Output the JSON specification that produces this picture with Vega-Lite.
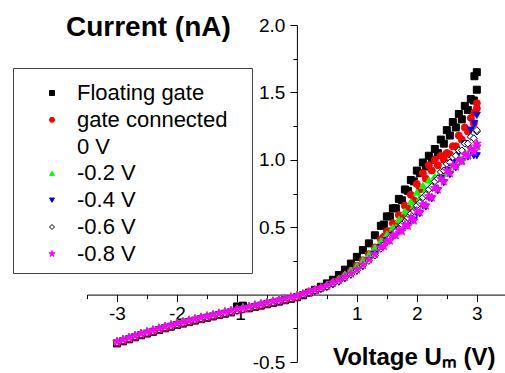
{
  "$schema": "https://vega.github.io/schema/vega-lite/v6.json",
  "width": 418,
  "height": 337,
  "autosize": {"type": "none"},
  "padding": {"left": 87, "top": 25, "right": 0, "bottom": 11},
  "background": "white",
  "config": {
    "view": {"stroke": null},
    "axis": {
      "labelFont": "Liberation Sans",
      "labelFontSize": 19,
      "labelColor": "black",
      "domainColor": "black",
      "tickColor": "black",
      "grid": false,
      "titleFont": "Liberation Sans",
      "titleColor": "black",
      "titleFontWeight": "bold"
    }
  },
  "data": {
    "values": [
      {"v": -3.0, "a": -0.362, "b": -0.36, "c": -0.338, "d": -0.362, "e": -0.358, "f": -0.35},
      {"v": -2.9, "a": -0.347, "b": -0.345, "c": -0.323, "d": -0.347, "e": -0.343, "f": -0.335},
      {"v": -2.8, "a": -0.332, "b": -0.33, "c": -0.308, "d": -0.332, "e": -0.328, "f": -0.32},
      {"v": -2.7, "a": -0.317, "b": -0.315, "c": -0.293, "d": -0.317, "e": -0.313, "f": -0.305},
      {"v": -2.6, "a": -0.302, "b": -0.3, "c": -0.278, "d": -0.302, "e": -0.298, "f": -0.29},
      {"v": -2.5, "a": -0.289, "b": -0.287, "c": -0.265, "d": -0.289, "e": -0.285, "f": -0.277},
      {"v": -2.4, "a": -0.276, "b": -0.274, "c": -0.252, "d": -0.276, "e": -0.272, "f": -0.264},
      {"v": -2.3, "a": -0.263, "b": -0.261, "c": -0.239, "d": -0.263, "e": -0.259, "f": -0.251},
      {"v": -2.2, "a": -0.25, "b": -0.248, "c": -0.226, "d": -0.25, "e": -0.246, "f": -0.238},
      {"v": -2.1, "a": -0.238, "b": -0.236, "c": -0.214, "d": -0.238, "e": -0.234, "f": -0.226},
      {"v": -2.0, "a": -0.226, "b": -0.224, "c": -0.202, "d": -0.226, "e": -0.222, "f": -0.214},
      {"v": -1.9, "a": -0.215, "b": -0.213, "c": -0.191, "d": -0.215, "e": -0.211, "f": -0.203},
      {"v": -1.8, "a": -0.204, "b": -0.202, "c": -0.18, "d": -0.204, "e": -0.2, "f": -0.192},
      {"v": -1.7, "a": -0.193, "b": -0.191, "c": -0.169, "d": -0.193, "e": -0.189, "f": -0.181},
      {"v": -1.6, "a": -0.182, "b": -0.18, "c": -0.158, "d": -0.182, "e": -0.178, "f": -0.17},
      {"v": -1.5, "a": -0.172, "b": -0.17, "c": -0.148, "d": -0.172, "e": -0.168, "f": -0.16},
      {"v": -1.4, "a": -0.162, "b": -0.16, "c": -0.138, "d": -0.162, "e": -0.158, "f": -0.15},
      {"v": -1.3, "a": -0.152, "b": -0.15, "c": -0.128, "d": -0.152, "e": -0.148, "f": -0.14},
      {"v": -1.2, "a": -0.142, "b": -0.14, "c": -0.118, "d": -0.142, "e": -0.138, "f": -0.13},
      {"v": -1.1, "a": -0.132, "b": -0.13, "c": -0.108, "d": -0.132, "e": -0.128, "f": -0.12},
      {"v": -1.0, "a": -0.088, "b": -0.12, "c": -0.098, "d": -0.122, "e": -0.118, "f": -0.11},
      {"v": -0.9, "a": -0.082, "b": -0.11, "c": -0.088, "d": -0.112, "e": -0.108, "f": -0.1},
      {"v": -0.8, "a": -0.102, "b": -0.1, "c": -0.078, "d": -0.102, "e": -0.098, "f": -0.09},
      {"v": -0.7, "a": -0.092, "b": -0.09, "c": -0.068, "d": -0.092, "e": -0.088, "f": -0.08},
      {"v": -0.6, "a": -0.082, "b": -0.08, "c": -0.058, "d": -0.082, "e": -0.078, "f": -0.07},
      {"v": -0.5, "a": -0.072, "b": -0.07, "c": -0.048, "d": -0.072, "e": -0.068, "f": -0.06},
      {"v": -0.4, "a": -0.062, "b": -0.06, "c": -0.038, "d": -0.062, "e": -0.058, "f": -0.05},
      {"v": -0.3, "a": -0.052, "b": -0.05, "c": -0.028, "d": -0.052, "e": -0.048, "f": -0.04},
      {"v": -0.2, "a": -0.042, "b": -0.04, "c": -0.018, "d": -0.042, "e": -0.038, "f": -0.03},
      {"v": -0.1, "a": -0.032, "b": -0.03, "c": -0.008, "d": -0.032, "e": -0.028, "f": -0.02},
      {"v": 0.0, "a": -0.02, "b": -0.02, "c": 0.002, "d": -0.022, "e": -0.018, "f": -0.01},
      {"v": 0.1, "a": -0.005, "b": 0.0, "c": 0.012, "d": -0.008, "e": 0.0, "f": 0.005},
      {"v": 0.2, "a": 0.015, "b": 0.015, "c": 0.027, "d": 0.007, "e": 0.015, "f": 0.02},
      {"v": 0.3, "a": 0.035, "b": 0.03, "c": 0.042, "d": 0.022, "e": 0.03, "f": 0.035},
      {"v": 0.4, "a": 0.058, "b": 0.045, "c": 0.057, "d": 0.037, "e": 0.045, "f": 0.05},
      {"v": 0.5, "a": 0.083, "b": 0.06, "c": 0.077, "d": 0.052, "e": 0.06, "f": 0.068},
      {"v": 0.6, "a": 0.11, "b": 0.085, "c": 0.097, "d": 0.072, "e": 0.08, "f": 0.088},
      {"v": 0.7, "a": 0.145, "b": 0.11, "c": 0.122, "d": 0.092, "e": 0.1, "f": 0.108},
      {"v": 0.8, "a": 0.185, "b": 0.14, "c": 0.152, "d": 0.117, "e": 0.125, "f": 0.13},
      {"v": 0.9, "a": 0.23, "b": 0.175, "c": 0.182, "d": 0.142, "e": 0.15, "f": 0.155},
      {"v": 1.0, "a": 0.28, "b": 0.215, "c": 0.217, "d": 0.172, "e": 0.18, "f": 0.185},
      {"v": 1.1, "a": 0.33, "b": 0.255, "c": 0.257, "d": 0.207, "e": 0.215, "f": 0.22},
      {"v": 1.2, "a": 0.38, "b": 0.3, "c": 0.3, "d": 0.25, "e": 0.25, "f": 0.26},
      {"v": 1.3, "a": 0.44, "b": 0.35, "c": 0.35, "d": 0.3, "e": 0.29, "f": 0.3},
      {"v": 1.4, "a": 0.51, "b": 0.41, "c": 0.4, "d": 0.35, "e": 0.34, "f": 0.35},
      {"v": 1.5, "a": 0.58, "b": 0.47, "c": 0.45, "d": 0.4, "e": 0.4, "f": 0.4},
      {"v": 1.6, "a": 0.64, "b": 0.53, "c": 0.5, "d": 0.44, "e": 0.44, "f": 0.44},
      {"v": 1.7, "a": 0.71, "b": 0.59, "c": 0.56, "d": 0.48, "e": 0.49, "f": 0.48},
      {"v": 1.8, "a": 0.78, "b": 0.66, "c": 0.62, "d": 0.52, "e": 0.54, "f": 0.52},
      {"v": 1.9, "a": 0.85, "b": 0.74, "c": 0.69, "d": 0.56, "e": 0.6, "f": 0.57},
      {"v": 2.0, "a": 0.92, "b": 0.82, "c": 0.76, "d": 0.6, "e": 0.66, "f": 0.62},
      {"v": 2.1, "a": 0.98, "b": 0.9, "c": 0.81, "d": 0.66, "e": 0.72, "f": 0.67},
      {"v": 2.2, "a": 1.03, "b": 0.96, "c": 0.85, "d": 0.72, "e": 0.78, "f": 0.73},
      {"v": 2.3, "a": 1.08, "b": 1.0, "c": 0.88, "d": 0.79, "e": 0.84, "f": 0.79},
      {"v": 2.4, "a": 1.15, "b": 1.03, "c": 0.91, "d": 0.86, "e": 0.91, "f": 0.86},
      {"v": 2.5, "a": 1.22, "b": 1.05, "c": 0.95, "d": 0.92, "e": 0.97, "f": 0.92},
      {"v": 2.6, "a": 1.28, "b": 1.1, "c": 0.98, "d": 0.98, "e": 1.02, "f": 0.96},
      {"v": 2.7, "a": 1.34, "b": 1.18, "c": 1.02, "d": 1.05, "e": 1.07, "f": 1.0},
      {"v": 2.8, "a": 1.4, "b": 1.24, "c": 1.06, "d": 1.12, "e": 1.12, "f": 1.04},
      {"v": 2.9, "a": 1.45, "b": 1.31, "c": 1.09, "d": 1.22, "e": 1.17, "f": 1.08},
      {"v": 3.0, "a": 1.52, "b": 1.38, "c": 1.12, "d": 1.33, "e": 1.21, "f": 1.12},
      {"v": 1.45, "a": 0.52, "b": 0.43, "c": 0.41, "d": 0.36, "e": 0.37, "f": 0.36},
      {"v": 1.55, "a": 0.58, "b": 0.47, "c": 0.45, "d": 0.4, "e": 0.42, "f": 0.4},
      {"v": 1.65, "a": 0.64, "b": 0.52, "c": 0.5, "d": 0.44, "e": 0.47, "f": 0.44},
      {"v": 1.75, "a": 0.7, "b": 0.58, "c": 0.55, "d": 0.47, "e": 0.52, "f": 0.47},
      {"v": 1.85, "a": 0.77, "b": 0.64, "c": 0.6, "d": 0.51, "e": 0.57, "f": 0.51},
      {"v": 1.95, "a": 0.84, "b": 0.7, "c": 0.66, "d": 0.55, "e": 0.62, "f": 0.55},
      {"v": 2.05, "a": 0.9, "b": 0.78, "c": 0.72, "d": 0.6, "e": 0.68, "f": 0.61},
      {"v": 2.15, "a": 0.95, "b": 0.86, "c": 0.78, "d": 0.65, "e": 0.74, "f": 0.66},
      {"v": 2.25, "a": 1.0, "b": 0.92, "c": 0.83, "d": 0.71, "e": 0.8, "f": 0.72},
      {"v": 2.35, "a": 1.05, "b": 0.96, "c": 0.87, "d": 0.77, "e": 0.86, "f": 0.78},
      {"v": 2.45, "a": 1.12, "b": 1.0, "c": 0.9, "d": 0.83, "e": 0.92, "f": 0.84},
      {"v": 2.55, "a": 1.18, "b": 1.04, "c": 0.93, "d": 0.89, "e": 0.98, "f": 0.9},
      {"v": 2.65, "a": 1.24, "b": 1.1, "c": 0.96, "d": 0.94, "e": 1.03, "f": 0.95},
      {"v": 2.75, "a": 1.3, "b": 1.15, "c": 0.99, "d": 0.99, "e": 1.07, "f": 0.99},
      {"v": 2.85, "a": 1.37, "b": 1.21, "c": 1.03, "d": 1.02, "e": 1.12, "f": 1.03},
      {"v": 2.95, "a": 1.44, "b": 1.27, "c": 1.07, "d": 1.03, "e": 1.16, "f": 1.06},
      {"v": 3.0, "a": 1.65, "b": 1.42, "c": 1.1, "d": 1.03, "e": 1.22, "f": 1.1},
      {"v": 2.96, "a": 1.62, "b": 1.35, "c": null, "d": 1.27, "e": null, "f": null}
    ]
  },
  "transform": [{"fold": ["a", "b", "c", "d", "e", "f"], "as": ["key", "i"]}],
  "mark": {"type": "point", "filled": true, "size": 49, "strokeWidth": 1, "opacity": 1},
  "encoding": {
    "x": {
      "field": "v", "type": "quantitative",
      "scale": {"domain": [-3.5, 3.47], "nice": false, "zero": false},
      "axis": {
        "orient": "bottom", "offset": -67.4, "title": "Voltage Uₘ (V)",
        "values": [-3.5, -3, -2.5, -2, -1.5, -1, -0.5, 0, 0.5, 1, 1.5, 2, 2.5, 3],
        "labelExpr": "datum.value == 0 || datum.value % 1 != 0 ? '' : '' + datum.value",
        "tickSize": {"condition": {"test": "datum.value % 1 == 0", "value": 7}, "value": 4},
        "labelPadding": 3, "labelFlush": false, "labelOverlap": false,
        "titleFontSize": 24, "titleAlign": "right", "titleAnchor": null,
        "titleX": 408, "titleY": 70, "titleBaseline": "alphabetic"
      }
    },
    "y": {
      "field": "i", "type": "quantitative",
      "scale": {"domain": [-0.5, 2.0], "nice": false, "zero": false},
      "axis": {
        "orient": "left", "offset": -209.9, "title": "Current (nA)",
        "values": [-0.5, -0.25, 0, 0.25, 0.5, 0.75, 1, 1.25, 1.5, 1.75, 2],
        "labelExpr": "datum.value == 0 || (datum.value * 2) % 1 != 0 ? '' : (datum.value % 1 == 0 ? datum.value + '.0' : '' + datum.value)",
        "tickSize": {"condition": {"test": "(datum.value * 2) % 1 == 0", "value": 7}, "value": 4},
        "labelPadding": 5, "labelFlush": false, "labelOverlap": false,
        "titleFontSize": 28, "titleAngle": 0, "titleAlign": "center", "titleAnchor": null,
        "titleX": -149, "titleY": 10, "titleBaseline": "alphabetic"
      }
    },
    "fill": {
      "field": "key", "type": "nominal",
      "scale": {"domain": ["a", "b", "z", "c", "d", "e", "f"], "range": ["black", "red", "transparent", "#00ff00", "blue", "white", "magenta"]},
      "legend": {
        "title": " ", "titleFontSize": 6, "titlePadding": 0, "orient": "none", "legendX": -74, "legendY": 43,
        "padding": 8, "strokeColor": "#444", "labelFont": "Liberation Sans", "labelFontSize": 22, "labelColor": "black", "labelLimit": 220,
        "symbolOffset": 20, "labelOffset": 14, "rowPadding": 4.8, "symbolSize": 25, "symbolStrokeWidth": 1,
        "labelExpr": "datum.label == 'a' ? 'Floating gate' : datum.label == 'b' ? 'gate connected\u2800' : datum.label == 'z' ? '0 V' : datum.label == 'c' ? '-0.2 V' : datum.label == 'd' ? '-0.4 V' : datum.label == 'e' ? '-0.6 V' : '-0.8 V'"
      }
    },
    "stroke": {
      "field": "key", "type": "nominal",
      "scale": {"domain": ["a", "b", "z", "c", "d", "e", "f"], "range": ["black", "red", "transparent", "#00ff00", "blue", "black", "magenta"]},
      "legend": {
        "title": " ", "titleFontSize": 6, "titlePadding": 0, "orient": "none", "legendX": -74, "legendY": 43,
        "padding": 8, "strokeColor": "#444", "labelFont": "Liberation Sans", "labelFontSize": 22, "labelColor": "black", "labelLimit": 220,
        "symbolOffset": 20, "labelOffset": 14, "rowPadding": 4.8, "symbolSize": 25, "symbolStrokeWidth": 1,
        "labelExpr": "datum.label == 'a' ? 'Floating gate' : datum.label == 'b' ? 'gate connected\u2800' : datum.label == 'z' ? '0 V' : datum.label == 'c' ? '-0.2 V' : datum.label == 'd' ? '-0.4 V' : datum.label == 'e' ? '-0.6 V' : '-0.8 V'"
      }
    },
    "shape": {
      "field": "key", "type": "nominal",
      "scale": {"domain": ["a", "b", "z", "c", "d", "e", "f"], "range": ["square", "circle", "circle", "triangle-up", "triangle-down", "diamond", "M0,-1.3L0.29,-0.4L1.24,-0.4L0.47,0.15L0.76,1.05L0,0.5L-0.76,1.05L-0.47,0.15L-1.24,-0.4L-0.29,-0.4Z"]},
      "legend": {
        "title": " ", "titleFontSize": 6, "titlePadding": 0, "orient": "none", "legendX": -74, "legendY": 43,
        "padding": 8, "strokeColor": "#444", "labelFont": "Liberation Sans", "labelFontSize": 22, "labelColor": "black", "labelLimit": 220,
        "symbolOffset": 20, "labelOffset": 14, "rowPadding": 4.8, "symbolSize": 25, "symbolStrokeWidth": 1,
        "labelExpr": "datum.label == 'a' ? 'Floating gate' : datum.label == 'b' ? 'gate connected\u2800' : datum.label == 'z' ? '0 V' : datum.label == 'c' ? '-0.2 V' : datum.label == 'd' ? '-0.4 V' : datum.label == 'e' ? '-0.6 V' : '-0.8 V'"
      }
    },
    "order": {"field": "key", "type": "ordinal"}
  }
}
